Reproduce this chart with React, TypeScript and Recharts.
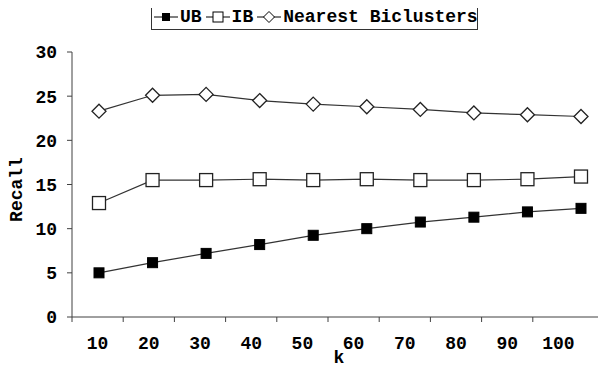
import React from 'react'
import { LineChart, Line, XAxis, YAxis } from 'recharts'

const CATEGORIES = [10, 20, 30, 40, 50, 60, 70, 80, 90, 100]
const UB = [5.0, 6.15, 7.2, 8.2, 9.25, 10.0, 10.75, 11.3, 11.9, 12.3]
const IB = [12.9, 15.5, 15.5, 15.6, 15.5, 15.6, 15.5, 15.5, 15.6, 15.9]
const NEAREST = [23.3, 25.1, 25.2, 24.5, 24.1, 23.8, 23.5, 23.1, 22.9, 22.7]
const Y_TICKS = [0, 5, 10, 15, 20, 25, 30]

const data = CATEGORIES.map((k, i) => ({
  k,
  ub: UB[i],
  ib: IB[i],
  nb: NEAREST[i],
}))

const FONT = '"Liberation Mono", "Courier New", monospace'
const AXIS = '#404040'
const TICK_STEP = 51.2

function FilledSquare(props: any) {
  const { cx, cy } = props
  if (cx == null || cy == null) return null
  return <rect x={cx - 5} y={cy - 5} width={10} height={10} fill="#000" stroke="#000" strokeWidth={1} />
}

function OpenSquare(props: any) {
  const { cx, cy } = props
  if (cx == null || cy == null) return null
  return <rect x={cx - 6.5} y={cy - 6.5} width={13} height={13} fill="#fff" stroke="#222" strokeWidth={1.3} />
}

function Diamond(props: any) {
  const { cx, cy } = props
  if (cx == null || cy == null) return null
  const r = 7
  return (
    <polygon
      points={`${cx},${cy - r} ${cx + r},${cy} ${cx},${cy + r} ${cx - r},${cy}`}
      fill="#fff"
      stroke="#222"
      strokeWidth={1.3}
    />
  )
}

function CatTick(props: any) {
  const { x, y, payload } = props
  return (
    <text
      x={x + TICK_STEP / 2}
      y={y}
      dy="0.71em"
      textAnchor="middle"
      fill="#000"
      fontFamily={FONT}
      fontWeight="bold"
      fontSize={18}
    >
      {payload.value}
    </text>
  )
}

function LegendIcon({ kind }: { kind: 'filled' | 'open' | 'diamond' }) {
  return (
    <svg width={24} height={14} style={{ display: 'block' }}>
      <line x1={0} y1={7} x2={24} y2={7} stroke="#000" strokeWidth={1} />
      {kind === 'filled' && <rect x={8} y={3} width={8} height={8} fill="#000" />}
      {kind === 'open' && <rect x={7} y={2} width={10} height={10} fill="#fff" stroke="#000" />}
      {kind === 'diamond' && <polygon points="12,1.5 17.5,7 12,12.5 6.5,7" fill="#fff" stroke="#000" />}
    </svg>
  )
}

function ChartLegend() {
  const items: { label: string; kind: 'filled' | 'open' | 'diamond' }[] = [
    { label: 'UB', kind: 'filled' },
    { label: 'IB', kind: 'open' },
    { label: 'Nearest Biclusters', kind: 'diamond' },
  ]
  return (
    <div
      style={{
        position: 'absolute',
        left: 151,
        top: 4,
        width: 327,
        height: 26,
        boxSizing: 'border-box',
        border: '1px solid #333',
        display: 'flex',
        alignItems: 'center',
        paddingLeft: 2,
        fontFamily: FONT,
        fontWeight: 'bold',
        fontSize: 18,
        color: '#000',
        background: '#fff',
      }}
    >
      {items.map((it, i) => (
        <div key={it.label} style={{ display: 'flex', alignItems: 'center', marginRight: i < 2 ? 4 : 0 }}>
          <LegendIcon kind={it.kind} />
          <span style={{ marginLeft: 2, whiteSpace: 'pre' }}>{it.label}</span>
        </div>
      ))}
    </div>
  )
}

export default function App() {
  return (
    <div style={{ position: 'relative', width: 606, height: 368, margin: '-8px 0 0 -8px', background: '#fff' }}>
      <ChartLegend />
      <LineChart width={606} height={368} data={data} margin={{ top: 52, right: 0, bottom: 0, left: 0 }}>
        <XAxis
          xAxisId="cat"
          dataKey="k"
          type="category"
          interval={0}
          padding={{ left: 0, right: 606 - 72 - 9 * TICK_STEP }}
          height={51}
          tickSize={5}
          tickMargin={14}
          tick={<CatTick />}
          tickLine={{ stroke: AXIS }}
          axisLine={{ stroke: AXIS }}
          label={({ viewBox }: any) => (
            <text
              x={viewBox.x + viewBox.width / 2}
              y={viewBox.y + 46}
              textAnchor="middle"
              fill="#000"
              fontFamily={FONT}
              fontWeight="bold"
              fontSize={18}
            >
              k
            </text>
          )}
        />
        <XAxis xAxisId="pts" dataKey="k" type="category" hide padding={{ left: 27, right: 25 }} />
        <YAxis
          width={72}
          domain={[0, 30]}
          ticks={Y_TICKS}
          interval={0}
          tickSize={5}
          tickMargin={10}
          tick={{ fill: '#000', fontFamily: FONT, fontWeight: 'bold', fontSize: 18 }}
          tickLine={{ stroke: AXIS }}
          axisLine={{ stroke: AXIS }}
          label={({ viewBox }: any) => {
            const x = viewBox.x + 17
            const y = viewBox.y + viewBox.height / 2 + 5
            return (
              <text
                x={x}
                y={y}
                transform={`rotate(-90 ${x} ${y})`}
                textAnchor="middle"
                dominantBaseline="central"
                fill="#000"
                fontFamily={FONT}
                fontWeight="bold"
                fontSize={18}
              >
                Recall
              </text>
            )
          }}
        />
        <Line
          xAxisId="pts"
          dataKey="ub"
          stroke="#333"
          strokeWidth={1.2}
          dot={<FilledSquare />}
          isAnimationActive={false}
        />
        <Line
          xAxisId="pts"
          dataKey="ib"
          stroke="#333"
          strokeWidth={1.2}
          dot={<OpenSquare />}
          isAnimationActive={false}
        />
        <Line
          xAxisId="pts"
          dataKey="nb"
          stroke="#333"
          strokeWidth={1.2}
          dot={<Diamond />}
          isAnimationActive={false}
        />
      </LineChart>
    </div>
  )
}
